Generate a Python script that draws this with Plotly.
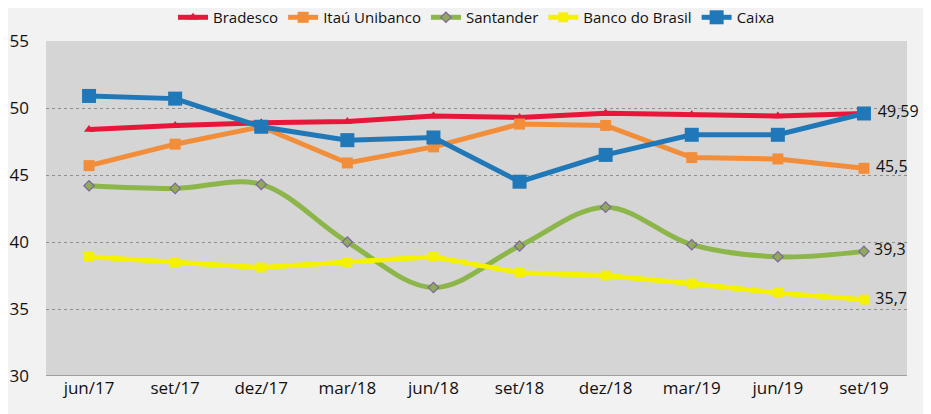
import plotly.graph_objects as go

categories = ["jun/17", "set/17", "dez/17", "mar/18", "jun/18", "set/18", "dez/18", "mar/19", "jun/19", "set/19"]
bradesco = [48.4, 48.7, 48.9, 49.0, 49.4, 49.3, 49.6, 49.5, 49.4, 49.59]
itau = [45.7, 47.3, 48.6, 45.9, 47.1, 48.8, 48.7, 46.3, 46.2, 45.5]
santander = [44.2, 44.0, 44.3, 40.0, 36.6, 39.7, 42.6, 39.8, 38.9, 39.3]
bb = [38.9, 38.5, 38.1, 38.5, 38.9, 37.7, 37.5, 36.9, 36.2, 35.7]
caixa = [50.9, 50.7, 48.6, 47.6, 47.8, 44.5, 46.5, 48.0, 48.0, 49.59]
end_labels = {"itau": "45,5", "santander": "39,3", "bb": "35,7", "caixa": "49,59"}

def lbl(key, n):
    t = [""] * n
    if key in end_labels:
        t[-1] = " " + end_labels[key]
    return t

fig = go.Figure()
font_txt = dict(family="Open Sans, sans-serif", size=16, color="#111")

fig.add_trace(go.Scatter(x=categories, y=bradesco, name="Bradesco", mode="lines+markers",
    line=dict(color="#e8173a", width=5), marker=dict(symbol="triangle-up", size=9, color="#e8173a")))
fig.add_trace(go.Scatter(x=categories, y=itau, name="Itaú Unibanco", mode="lines+markers+text",
    text=lbl("itau", len(categories)), textposition="middle right", textfont=font_txt, cliponaxis=False,
    line=dict(color="#f28e3a", width=5), marker=dict(symbol="square", size=11, color="#f28e3a")))
fig.add_trace(go.Scatter(x=categories, y=santander, name="Santander", mode="lines+markers+text",
    text=lbl("santander", len(categories)), textposition="middle right", textfont=font_txt, cliponaxis=False,
    line=dict(color="#8cb649", width=5, shape="spline", smoothing=1.0),
    marker=dict(symbol="diamond", size=8, color="#8faa58", line=dict(color="#8064a2", width=1.2))))
fig.add_trace(go.Scatter(x=categories, y=bb, name="Banco do Brasil", mode="lines+markers+text",
    text=lbl("bb", len(categories)), textposition="middle right", textfont=font_txt, cliponaxis=False,
    line=dict(color="#f5f200", width=5), marker=dict(symbol="square", size=10, color="#f5f200")))
fig.add_trace(go.Scatter(x=categories, y=caixa, name="Caixa", mode="lines+markers+text",
    text=lbl("caixa", len(categories)), textposition="middle right", textfont=font_txt, cliponaxis=False,
    line=dict(color="#2178b8", width=5), marker=dict(symbol="square", size=14, color="#2178b8")))

fig.update_layout(
    width=923, height=406,
    margin=dict(l=38, r=24, t=33, b=38, autoexpand=False),
    paper_bgcolor="#f2f2f2", plot_bgcolor="#d5d5d5",
    font=dict(family="Open Sans, sans-serif", size=16, color="#111"),
    showlegend=True,
    legend=dict(orientation="h", x=0.5, xanchor="center", y=1.07, yanchor="middle",
                font=dict(size=15, color="#111"), bgcolor="rgba(0,0,0,0)",
                tracegroupgap=0),
    xaxis=dict(type="category", range=[-0.5, 9.5], showgrid=False, ticks="",
               showline=False, tickfont=dict(size=17)),
    yaxis=dict(range=[30, 55], dtick=5, showgrid=True, gridcolor="#8f8f8f", griddash="dot",
               gridwidth=1, zeroline=False, showline=False, ticks="", tickfont=dict(size=17),
               ticklabelstandoff=16),
)
fig.add_shape(type="line", xref="paper", yref="y", x0=0, x1=1, y0=30, y1=30,
              line=dict(color="#8a8a8a", width=1.5))
fig.write_html("out.html")
